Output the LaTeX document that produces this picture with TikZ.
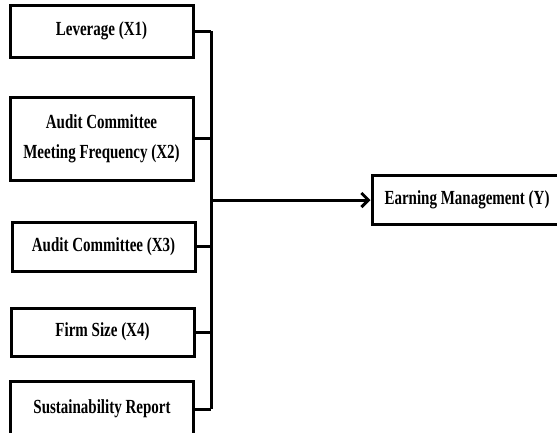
\documentclass[tikz,border=0pt]{standalone}
\usepackage{fontspec}
\setmainfont{Liberation Serif}[FakeStretch=0.75]
\usetikzlibrary{arrows.meta}
\begin{document}
\begin{tikzpicture}[x=1pt,y=-1pt,b/.style={rectangle,draw=black,line width=3pt,align=center,font=\fontsize{20}{30}\selectfont\bfseries},l/.style={line width=3pt}]
                \useasboundingbox (0,0) rectangle (557,432);

                \node[b,minimum width=183,minimum height=52] (x1) at (101.5,31) {Leverage (X1)};
                \node[b,minimum width=183,minimum height=83] (x2) at (101.5,138.5) {Audit Committee\\Meeting Frequency (X2)};
                \node[b,minimum width=183,minimum height=49] (x3) at (103.5,246.5) {Audit Committee (X3)};
                \node[b,minimum width=183,minimum height=48] (x4) at (102.5,332) {Firm Size (X4)};
                \node[b,minimum width=183,minimum height=56] (x5) at (102,409) {Sustainability Report};
                \node[b,minimum width=190,minimum height=49] (y) at (467,200) {Earning Management (Y)};

                \coordinate (top) at (211,31);
                \coordinate (bot) at (211,409);
                \coordinate (mid) at (211,200);

                \draw[l] (top) -- (bot);

                \draw[l] (x1.east) -- (x1.east -| mid);
                \draw[l] (x2.east) -- (x2.east -| mid);
                \draw[l] (x3.east) -- (x3.east -| mid);
                \draw[l] (x4.east) -- (x4.east -| mid);
                \draw[l] (x5.east) -- (x5.east -| mid);

                \draw[l,-{Straight Barb[length=7pt,width=14pt]}] (mid) -- (y.west);
            \end{tikzpicture}
\end{document}
